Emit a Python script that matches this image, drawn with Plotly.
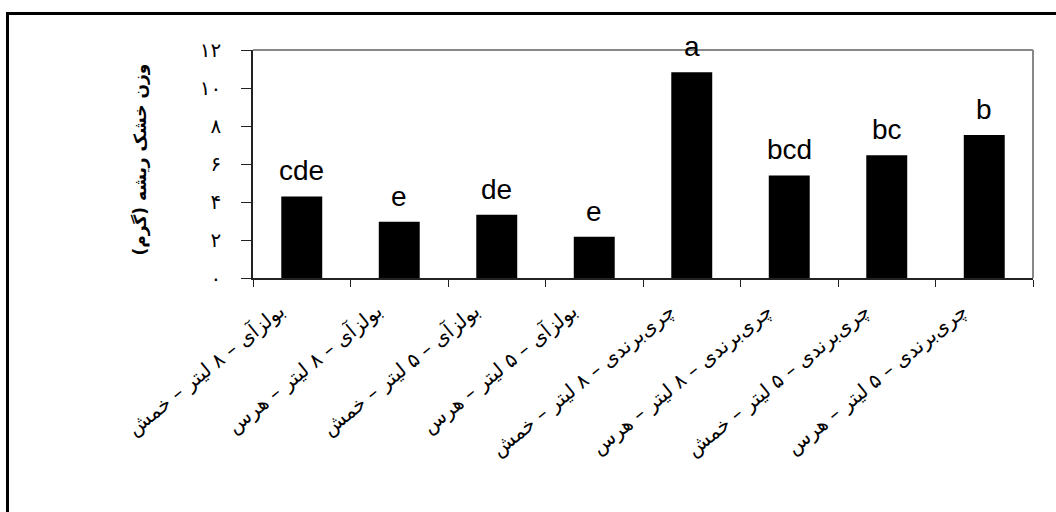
import plotly.graph_objects as go

categories = [
    "بولزآی – ۸ لیتر – خمش",
    "بولزآی – ۸ لیتر – هرس",
    "بولزآی – ۵ لیتر – خمش",
    "بولزآی – ۵ لیتر – هرس",
    "چری‌برندی – ۸ لیتر – خمش",
    "چری‌برندی – ۸ لیتر – هرس",
    "چری‌برندی – ۵ لیتر – خمش",
    "چری‌برندی – ۵ لیتر – هرس",
]
values = [4.29, 2.96, 3.33, 2.17, 10.83, 5.40, 6.46, 7.53]
letters = ["cde", "e", "de", "e", "a", "bcd", "bc", "b"]
ytick_vals = [0, 2, 4, 6, 8, 10, 12]
ytick_text = ["۰", "۲", "۴", "۶", "۸", "۱۰", "۱۲"]
y_title = "وزن خشک ریشه (گرم)"

fig = go.Figure()
fig.add_trace(go.Bar(x=categories, y=values, marker=dict(color="black", line=dict(width=0)),
                     hoverinfo="skip"))

for c, v, l in zip(categories, values, letters):
    fig.add_annotation(x=c, y=v, text=l, showarrow=False, yanchor="bottom", yshift=8,
                       font=dict(family="Liberation Sans, Arial", size=28, color="black"))

L, R, T, B = 253, 23, 50, 234
W, H = 1056, 512
pw, ph = W - L - R, H - T - B

def px_x(px):
    return (px - L) / pw

def px_y(py):
    return (H - B - py) / ph

fig.add_annotation(xref="paper", yref="paper", x=px_x(127), y=px_y(160), text="<b>" + y_title + "</b>",
                   textangle=-90, showarrow=False,
                   font=dict(family="DejaVu Sans", size=17, color="black"))

# outer frame
fig.add_shape(type="rect", xref="paper", yref="paper", x0=px_x(7.5), x1=px_x(1070),
              y0=px_y(530), y1=px_y(13.5), line=dict(color="black", width=3), layer="below")
# plot area top/right border in gray
fig.add_shape(type="line", xref="paper", yref="paper", x0=0, x1=1, y0=1, y1=1,
              line=dict(color="#888888", width=2))
fig.add_shape(type="line", xref="paper", yref="paper", x0=1, x1=1, y0=0, y1=1,
              line=dict(color="#888888", width=2))

fig.update_layout(
    width=W, height=H,
    margin=dict(l=L, r=R, t=T, b=B),
    paper_bgcolor="white", plot_bgcolor="white",
    showlegend=False, bargap=0.58,
    font=dict(family="DejaVu Sans", color="black"),
)
fig.update_xaxes(type="category", showgrid=False, showline=True, linecolor="#222222", linewidth=1.5,
                 ticks="outside", tickson="boundaries", ticklen=7, tickcolor="#222222",
                 tickangle=-39, tickfont=dict(family="DejaVu Sans", size=20, color="black"),
                 ticklabelstandoff=12, ticklabelshift=-22)
fig.update_yaxes(range=[0, 12], tickvals=ytick_vals, ticktext=ytick_text, showgrid=False,
                 showline=True, linecolor="#222222", linewidth=1.5, ticks="outside", ticklen=10,
                 tickcolor="#222222", tickfont=dict(family="DejaVu Sans", size=20, color="black"),
                 ticklabelstandoff=16, zeroline=False)

fig.write_html("out.html", config={"displayModeBar": False},
               post_script="document.body.style.margin='0';document.body.style.overflow='hidden';")
